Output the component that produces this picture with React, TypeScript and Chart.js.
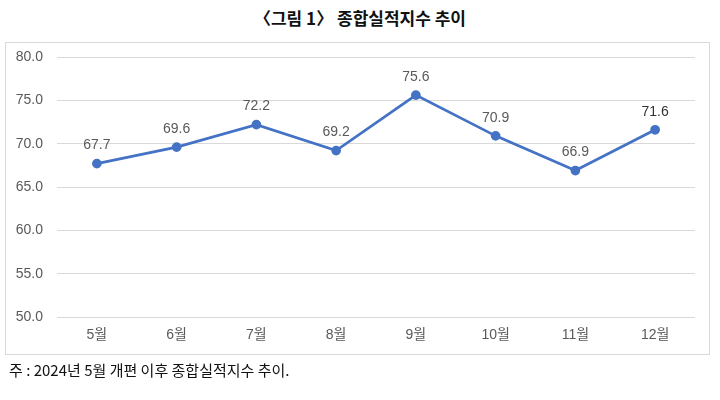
import React, { useEffect, useRef } from "react";
import { Chart, registerables } from "chart.js";

Chart.register(...registerables);

const TITLE = "〈그림 1〉 종합실적지수 추이";
const FOOTNOTE = "주 : 2024년 5월 개편 이후 종합실적지수 추이.";
const months = ["5월", "6월", "7월", "8월", "9월", "10월", "11월", "12월"];
const indexValues = [67.7, 69.6, 72.2, 69.2, 75.6, 70.9, 66.9, 71.6];
const yMin = 50;
const yMax = 80;
const yStep = 5;

const FONT = "'Liberation Sans', 'Noto Sans CJK KR', sans-serif";
const KFONT = "'Noto Sans CJK KR', sans-serif";

const dataLabelPlugin = {
  id: "dataLabels",
  afterDatasetsDraw(chart: any) {
    const ctx = chart.ctx;
    const meta = chart.getDatasetMeta(0);
    const data = chart.data.datasets[0].data as number[];
    ctx.save();
    ctx.textAlign = "center";
    ctx.textBaseline = "middle";
    meta.data.forEach((pt: any, i: number) => {
      const last = i === data.length - 1;
      ctx.font = `14px ${FONT}`;
      ctx.fillStyle = last ? "#333333" : "#595959";
      ctx.fillText(data[i].toFixed(1), pt.x, pt.y - 18);
    });
    ctx.restore();
  },
};

export default function App() {
  const canvasRef = useRef<HTMLCanvasElement | null>(null);

  useEffect(() => {
    if (!canvasRef.current) return;
    const chart = new Chart(canvasRef.current, {
      type: "line",
      data: {
        labels: months,
        datasets: [
          {
            data: indexValues,
            borderColor: "#4472C4",
            backgroundColor: "#4472C4",
            borderWidth: 2.75,
            pointRadius: 3.5,
            pointBackgroundColor: "#4472C4",
            pointBorderColor: "#4472C4",
            tension: 0,
          },
        ],
      },
      options: {
        animation: false,
        responsive: false,
        maintainAspectRatio: false,
        layout: { padding: { left: 0, top: 57, right: 25, bottom: 53 } },
        plugins: {
          legend: { display: false },
          tooltip: { enabled: false },
          title: { display: false },
        },
        scales: {
          x: {
            offset: true,
            grid: { display: false, drawTicks: false },
            border: { display: false },
            ticks: {
              color: "#595959",
              font: { family: FONT, size: 14 },
              padding: 10,
              maxRotation: 0,
            },
            afterFit(scale: any) {
              scale.height = 30;
            },
          },
          y: {
            min: yMin,
            max: yMax,
            grid: { color: "#d9d9d9", lineWidth: 1, drawTicks: false },
            border: { display: false },
            ticks: {
              stepSize: yStep,
              color: "#595959",
              font: { family: FONT, size: 14 },
              padding: 14,
              callback: (v: any) => Number(v).toFixed(1),
            },
            afterFit(scale: any) {
              scale.width = 57;
            },
          },
        },
      },
      plugins: [dataLabelPlugin],
    });
    return () => chart.destroy();
  }, []);

  return (
    <div
      style={{
        position: "absolute",
        left: 0,
        top: 0,
        width: 720,
        height: 400,
        background: "#ffffff",
        overflow: "hidden",
      }}
    >
      <div
        style={{
          position: "absolute",
          left: 0,
          top: 5,
          width: 720,
          textAlign: "center",
          fontFamily: KFONT,
          fontWeight: "bold",
          fontSize: 17,
          lineHeight: "26px",
          color: "#111111",
        }}
      >
        {TITLE}
      </div>
      <div
        style={{
          position: "absolute",
          left: 5,
          top: 42,
          width: 703,
          height: 311,
          border: "1px solid #d9d9d9",
        }}
      />
      <canvas
        ref={canvasRef}
        width={720}
        height={400}
        style={{ position: "absolute", left: 0, top: 0, width: 720, height: 400 }}
      />
      <div
        style={{
          position: "absolute",
          left: 9,
          top: 358,
          fontFamily: KFONT,
          fontSize: 15,
          lineHeight: "24px",
          color: "#111111",
          whiteSpace: "nowrap",
        }}
      >
        {FOOTNOTE}
      </div>
    </div>
  );
}
